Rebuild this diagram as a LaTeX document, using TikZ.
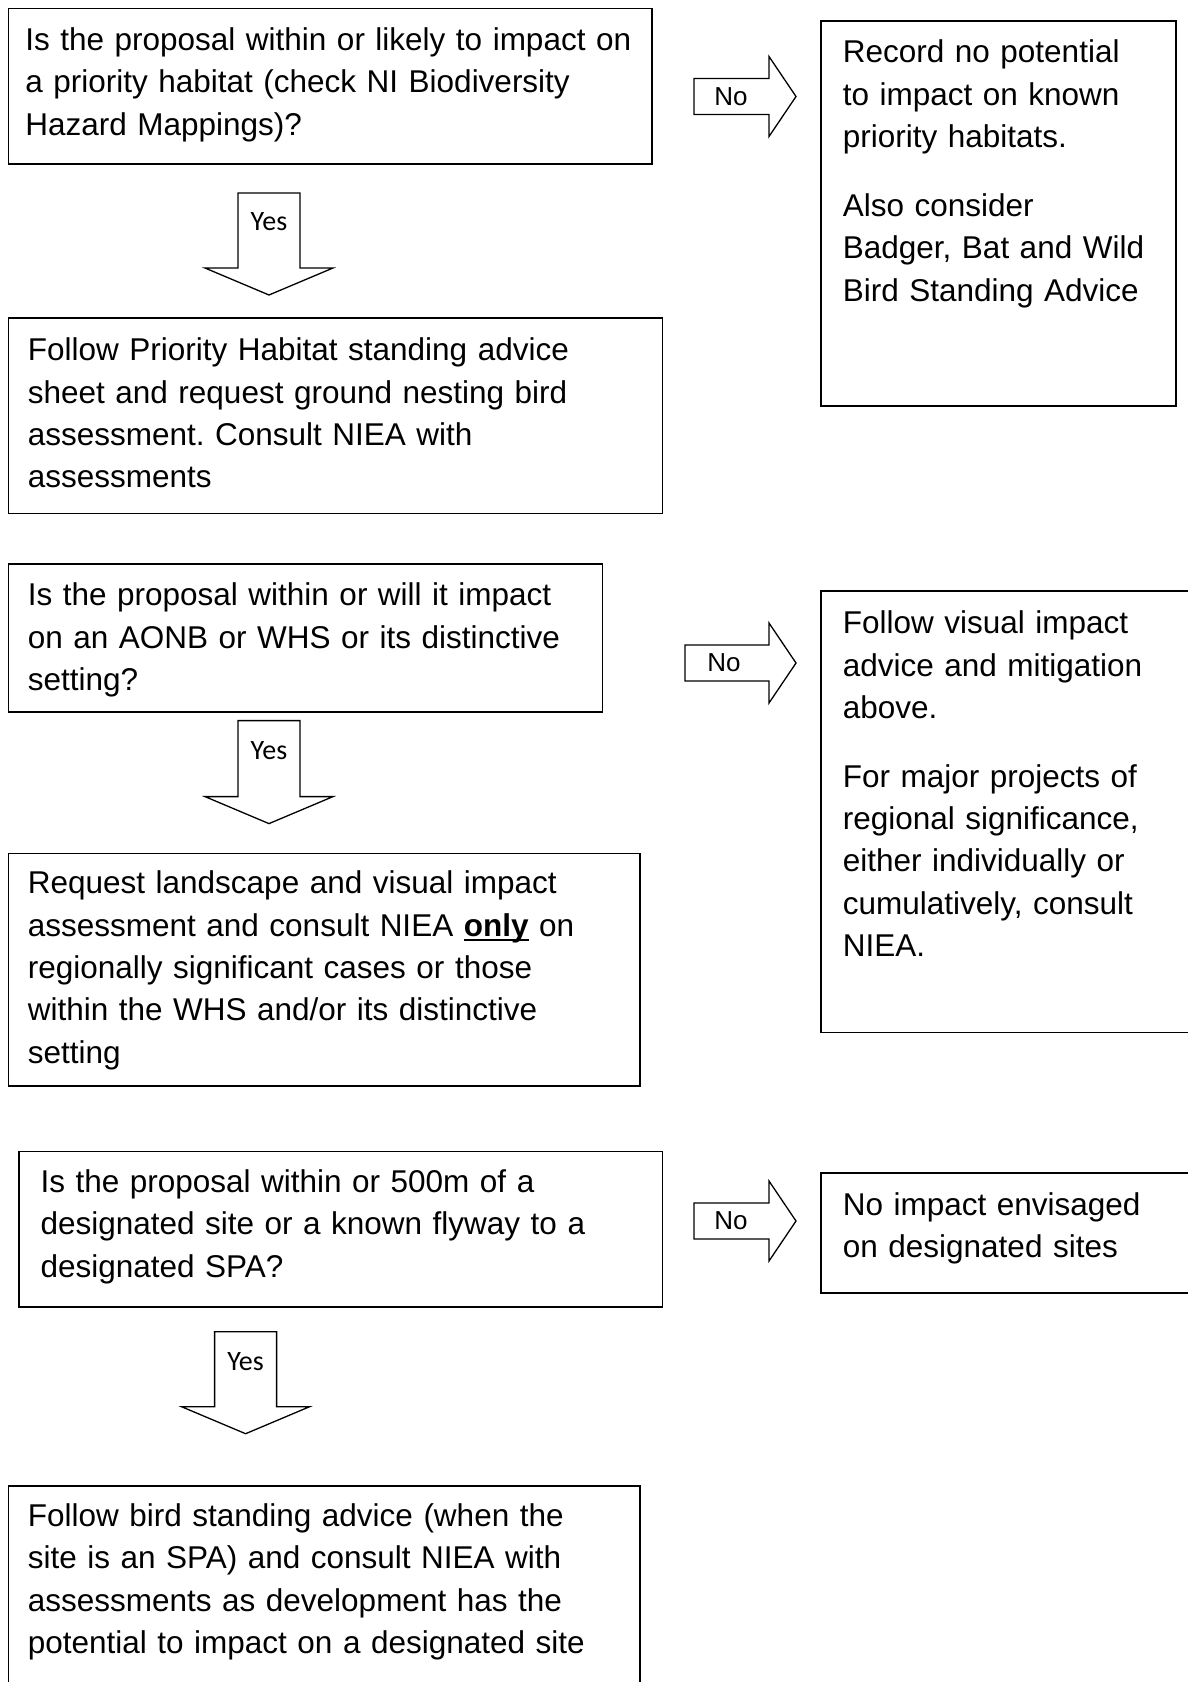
\documentclass[tikz,border=0pt]{standalone}
\usepackage{fontspec}
\setmainfont{Liberation Sans}
\newfontfamily\calibrifont{Carlito}
\usetikzlibrary{positioning}
\newcommand{\boldul}[1]{\setbox0\hbox{\textbf{#1}}\rlap{\rule[-5pt]{\wd0}{2.2pt}}\textbf{#1}}
\frenchspacing

\begin{document}
\begin{tikzpicture}
        [x=1pt,y=-1pt,
        decision/.style={draw=black,line width=1.8pt,anchor=north west,align=left,inner ysep=0pt,
                font=\fontsize{31.5}{42.3}\selectfont},
        blockarrow/.style={draw=black,line width=1.3pt,line join=miter},
        nolabel/.style={inner sep=0pt,font=\fontsize{26}{30}\selectfont},
        yeslabel/.style={inner sep=0pt,font=\calibrifont\fontsize{28}{32}\selectfont}]

\useasboundingbox (0,0) rectangle (1187,1682);

% boxes
\node[decision,text width=609.5pt,inner xsep=17pt,text height=42pt,text depth=113.5pt] at (7.5,7.5) (habitat)
        {Is the proposal within or likely to impact on\\a priority habitat (check NI Biodiversity\\Hazard Mappings)?};

\node[decision,text width=311pt,inner xsep=22pt,text height=42pt,text depth=343pt] at (820,20) (nohabitat)
        {Record no potential\\to impact on known\\priority habitats.\\[26.7pt]Also consider\\Badger, Bat and Wild\\Bird Standing Advice};

\node[decision,text width=615pt,inner xsep=19.5pt,text height=43pt,text depth=152.6pt] at (7.5,317) (habitatadvice)
        {Follow Priority Habitat standing advice\\sheet and request ground nesting bird\\assessment. Consult NIEA with\\assessments};

\node[decision,text width=555pt,inner xsep=19.5pt,text height=42pt,text depth=106pt] at (7.5,563) (aonb)
        {Is the proposal within or will it impact\\on an AONB or WHS or its distinctive\\setting?};

\node[decision,text width=366pt,inner xsep=22pt,text height=43pt,text depth=398.7pt] at (820,589.8) (noaonb)
        {Follow visual impact\\advice and mitigation\\above.\\[26.7pt]For major projects of\\regional significance,\\either individually or\\cumulatively, consult\\NIEA.};

\node[decision,text width=592.5pt,inner xsep=19.5pt,text height=40.5pt,text depth=192pt] at (7.5,852.5) (landscape)
        {Request landscape and visual impact\\assessment and consult NIEA \boldul{only} on\\regionally significant cases or those\\within the WHS and/or its distinctive\\setting};

\node[decision,text width=600.4pt,inner xsep=21.5pt,text height=41pt,text depth=114.4pt] at (18.2,1150.6) (designated)
        {Is the proposal within or 500m of a\\designated site or a known flyway to a\\designated SPA?};

\node[decision,text width=366pt,inner xsep=22pt,text height=42.6pt,text depth=77.4pt] at (820,1172) (nodesignated)
        {No impact envisaged\\on designated sites};

\node[decision,text width=592.5pt,inner xsep=19.5pt,text height=40.6pt,text depth=174.4pt] at (7.5,1485) (birdadvice)
        {Follow bird standing advice (when the\\site is an SPA) and consult NIEA with\\assessments as development has the\\potential to impact on a designated site};

% no arrows
\node[nolabel] at (731,96.5) (no1) {No};
\draw[blockarrow] (no1.center) ++(-37,-18) -- ++(75,0) -- ++(0,-22) -- ++(27,40) -- ++(-27,40) -- ++(0,-22) -- ++(-75,0) -- cycle;

\node[nolabel] at (724,663) (no2) {No};
\draw[blockarrow] (no2.center) ++(-39,-18) -- ++(84,0) -- ++(0,-22) -- ++(27,40) -- ++(-27,40) -- ++(0,-22) -- ++(-84,0) -- cycle;

\node[nolabel] at (731,1221) (no3) {No};
\draw[blockarrow] (no3.center) ++(-37,-18) -- ++(75,0) -- ++(0,-22) -- ++(27,40) -- ++(-27,40) -- ++(0,-22) -- ++(-75,0) -- cycle;

% yes arrows
\node[yeslabel] at (269,222) (yes1) {Yes};
\draw[blockarrow] (yes1.center) ++(-31,-29) -- ++(62,0) -- ++(0,75) -- ++(33,0) -- ++(-64,27) -- ++(-64,-27) -- ++(33,0) -- cycle;

\node[yeslabel] at (269,750.6) (yes2) {Yes};
\draw[blockarrow] (yes2.center) ++(-31,-30) -- ++(62,0) -- ++(0,76) -- ++(33,0) -- ++(-64,27) -- ++(-64,-27) -- ++(33,0) -- cycle;

\node[yeslabel] at (245.6,1361.7) (yes3) {Yes};
\draw[blockarrow] (yes3.center) ++(-31,-30) -- ++(62,0) -- ++(0,75) -- ++(33,0) -- ++(-64,27) -- ++(-64,-27) -- ++(33,0) -- cycle;

\end{tikzpicture}
\end{document}
